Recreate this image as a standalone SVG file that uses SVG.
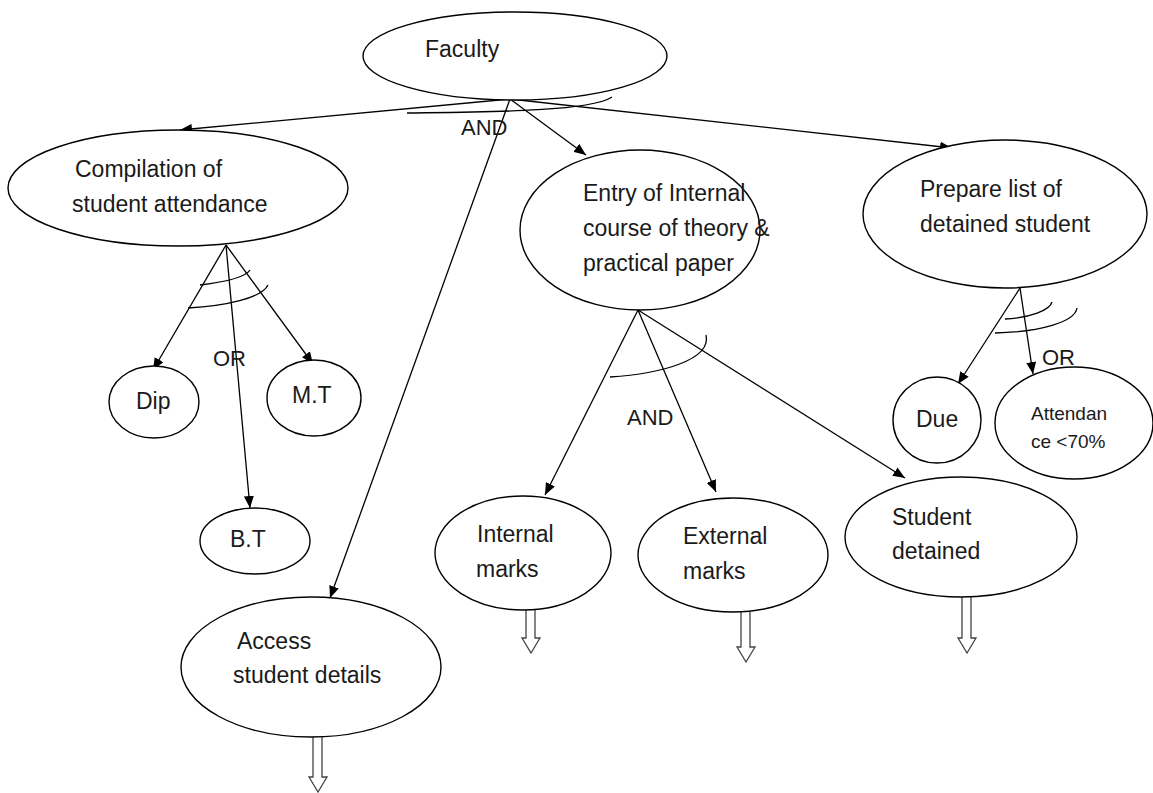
<svg xmlns="http://www.w3.org/2000/svg" width="1153" height="793" viewBox="0 0 1153 793">
  <defs>
    <marker id="arr" viewBox="0 0 12 10" refX="12" refY="5" markerWidth="12" markerHeight="10" markerUnits="userSpaceOnUse" orient="auto">
      <path d="M0,0 L12,5 L0,10 Z" fill="#000"/>
    </marker>
  </defs>
  <style>
    .node ellipse { fill: #fff; stroke: #000; stroke-width: 1.4; }
    text { font-family: "Liberation Sans", Arial, sans-serif; font-size: 23px; fill: #1a1a1a; }
    .small { font-size: 19px; }
    .logic { font-size: 22px; }
    .edge { stroke: #000; stroke-width: 1.3; fill: none; marker-end: url(#arr); }
    .arc { stroke: #000; stroke-width: 1.3; fill: none; }
    .hollow { fill: #fff; stroke: #444; stroke-width: 1.3; }
  </style>
  <rect width="1153" height="793" fill="#fff"/>

  <!-- connectors -->
  <g id="connectors">
    <line class="edge" x1="510" y1="99" x2="180" y2="130"/>
    <line class="edge" x1="510" y1="99" x2="586" y2="155"/>
    <line class="edge" x1="510" y1="99" x2="952" y2="148"/>
    <line class="edge" x1="510" y1="99" x2="330" y2="598"/>
    <path class="arc" d="M407,113 C480,112 590,112 612,97"/>

    <line class="edge" x1="226" y1="245" x2="153" y2="370"/>
    <line class="edge" x1="226" y1="245" x2="250" y2="508"/>
    <line class="edge" x1="226" y1="245" x2="313" y2="364"/>
    <path class="arc" d="M200,285 C225,282 245,278 250,270"/>
    <path class="arc" d="M188,308 C225,306 262,298 268,285"/>

    <line class="edge" x1="638" y1="310" x2="545" y2="495"/>
    <line class="edge" x1="638" y1="310" x2="716" y2="492"/>
    <line class="edge" x1="638" y1="310" x2="905" y2="478"/>
    <path class="arc" d="M610,377 C660,374 712,360 706,335"/>

    <line class="edge" x1="1020" y1="288" x2="958" y2="384"/>
    <line class="edge" x1="1020" y1="288" x2="1033" y2="374"/>
    <path class="arc" d="M1005,319 C1030,318 1050,310 1052,302"/>
    <path class="arc" d="M995,333 C1040,332 1075,322 1077,308"/>

    <!-- outgoing block arrows -->
    <path class="hollow" d="M526,610 V638 H522 L531,653 L540,638 H535 V610"/>
    <path class="hollow" d="M741,612 V647 H737 L746,662 L755,647 H750 V612"/>
    <path class="hollow" d="M962,597 V638 H958 L967,653 L976,638 H971 V597"/>
    <path class="hollow" d="M313,737 V777 H309 L318,792 L327,777 H322 V737"/>
  </g>

  <!-- logic labels -->
  <g id="labels">
    <text class="logic" x="461" y="135">AND</text>
    <text class="logic" x="213" y="366">OR</text>
    <text class="logic" x="627" y="425">AND</text>
    <text class="logic" x="1042" y="365">OR</text>
  </g>

  <g id="faculty" class="node">
    <ellipse cx="515" cy="56" rx="152" ry="44"/>
    <text x="425" y="57">Faculty</text>
  </g>
  <g id="compilation" class="node">
    <ellipse cx="178" cy="188" rx="170" ry="58"/>
    <text x="75" y="177">Compilation of</text>
    <text x="72" y="212">student attendance</text>
  </g>
  <g id="dip" class="node">
    <ellipse cx="154" cy="402" rx="45" ry="36"/>
    <text x="136" y="409">Dip</text>
  </g>
  <g id="mt" class="node">
    <ellipse cx="314" cy="398" rx="47" ry="38"/>
    <text x="292" y="403">M.T</text>
  </g>
  <g id="bt" class="node">
    <ellipse cx="255" cy="541" rx="55" ry="33"/>
    <text x="230" y="547">B.T</text>
  </g>
  <g id="access" class="node">
    <ellipse cx="311" cy="667" rx="130" ry="70"/>
    <text x="237" y="649">Access</text>
    <text x="233" y="683">student details</text>
  </g>
  <g id="entry" class="node">
    <ellipse cx="640" cy="230" rx="120" ry="80"/>
    <text x="583" y="201">Entry of Internal</text>
    <text x="583" y="236">course of theory &amp;</text>
    <text x="583" y="271">practical paper</text>
  </g>
  <g id="internal" class="node">
    <ellipse cx="523" cy="553" rx="88" ry="57"/>
    <text x="477" y="542">Internal</text>
    <text x="476" y="577">marks</text>
  </g>
  <g id="external" class="node">
    <ellipse cx="733" cy="555" rx="95" ry="57"/>
    <text x="683" y="544">External</text>
    <text x="683" y="579">marks</text>
  </g>
  <g id="detained" class="node">
    <ellipse cx="961" cy="537" rx="116" ry="60"/>
    <text x="892" y="525">Student</text>
    <text x="892" y="559">detained</text>
  </g>
  <g id="prepare" class="node">
    <ellipse cx="1005" cy="214" rx="142" ry="74"/>
    <text x="920" y="197">Prepare list of</text>
    <text x="920" y="232">detained student</text>
  </g>
  <g id="due" class="node">
    <ellipse cx="937" cy="420" rx="44" ry="43"/>
    <text x="916" y="427">Due</text>
  </g>
  <g id="attendance" class="node">
    <ellipse cx="1074" cy="423" rx="79" ry="56"/>
    <text class="small" x="1031" y="420">Attendan</text>
    <text class="small" x="1031" y="448">ce &lt;70%</text>
  </g>
</svg>
